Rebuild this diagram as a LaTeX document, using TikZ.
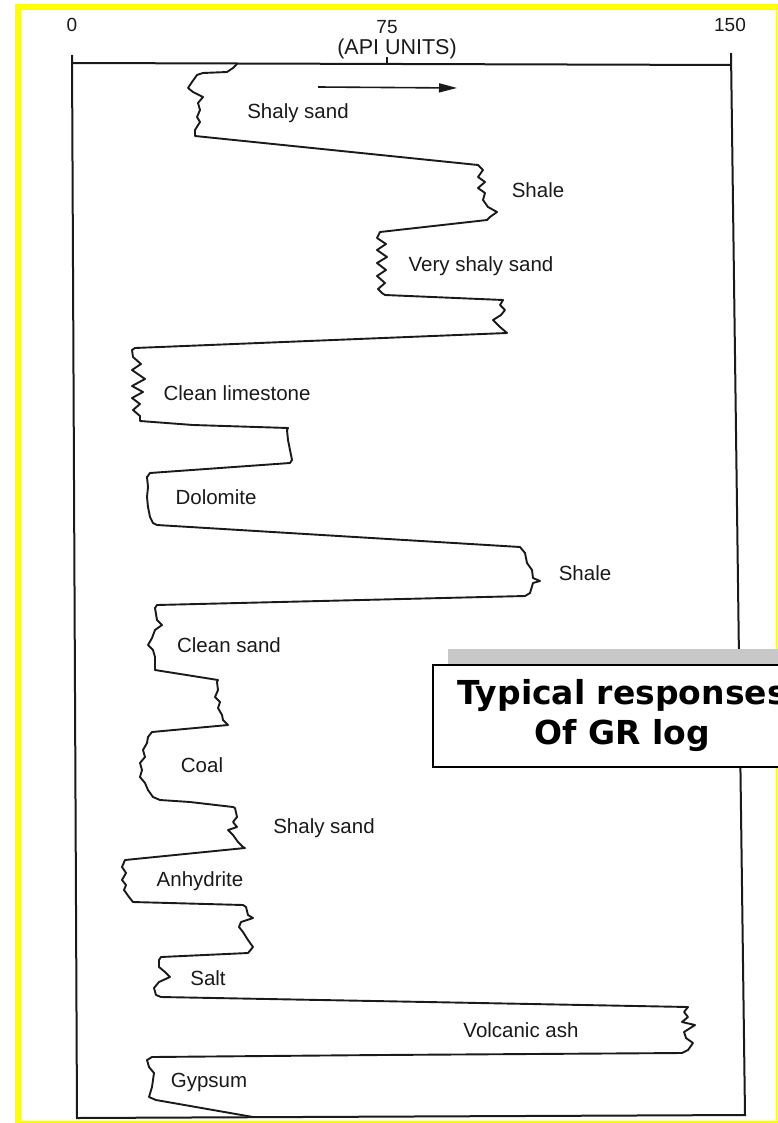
\documentclass[tikz,border=0pt]{standalone}
\usepackage{fontspec}
\newfontfamily\labelfont{Liberation Sans}
\newfontfamily\titlefont{DejaVu Sans}
\usetikzlibrary{arrows.meta}
\definecolor{ink}{HTML}{1A1A1A}
\definecolor{shadowgray}{HTML}{C8C8C8}
\definecolor{marker}{HTML}{FFFF00}
\tikzset{
  logline/.style={ink, line width=1.9pt, line join=round, line cap=round},
  framebox/.style={ink, line width=2pt, line join=miter},
  lith/.style={font=\labelfont\fontsize{20.5}{24}\selectfont, text=ink, inner sep=0pt},
  axislbl/.style={font=\labelfont\fontsize{19}{22}\selectfont, text=ink, inner sep=0pt},
  titlebox/.style={draw=black, line width=2pt, fill=white, align=center,
    font=\titlefont\bfseries\fontsize{33}{40}\selectfont,
    minimum width=378pt, minimum height=102pt, inner sep=0pt}
}
\begin{document}
\begin{tikzpicture}[x=1pt,y=-1pt]
  % page area
  \clip (0,0) rectangle (778,1123);
  \fill[white] (0,0) rectangle (778,1123);

  % yellow border
  \fill[marker] (15,4) rectangle (21,1123);
  \fill[marker] (15,4) rectangle (778,10);
  \draw[marker, line width=1.5pt] (776.5,4) -- (776.5,1123);
  \draw[marker, line width=1.5pt] (15,1122.2) -- (778,1122.2);

  % scale labels
  \node[axislbl] (s0) at (72,25) {0};
  \node[axislbl] (s75) at (387,27) {75};
  \node[axislbl] (s150) at (730,25) {150};
  \node[axislbl, font=\labelfont\fontsize{21.5}{24}\selectfont] (units) at (397,49) {(API UNITS)};

  % log track frame
  \draw[framebox] (72,55) -- (77,1118) -- (745,1115) -- (731,53);
  \draw[framebox] (72,63) -- (731,65);
  \draw[framebox] (387,57) -- (387,64);

  % direction of increasing API
  \coordinate (arrA) at (318,87);
  \coordinate (arrB) at (457,88);
  \draw[ink, line width=1.6pt, -{Triangle[length=18pt,width=9pt]}] (arrA) -- (arrB);

  % gamma ray curve
  \draw[logline]
    (237,64) -- (233,68) -- (227,72) -- (203,73) -- (197,75)
    -- (192,82) -- (188,88) -- (193,92) -- (203,97) -- (198,103) -- (200,110)
    -- (197,117) -- (200,122) -- (195,130) -- (195,136)
    -- (478,165)
    -- (483,170) -- (478,177) -- (485,182) -- (478,188) -- (485,193) -- (483,200)
    -- (488,207) -- (497,212) -- (490,217) -- (487,220)
    -- (380,232)
    -- (377,238) -- (386,244) -- (377,250) -- (387,257) -- (377,263) -- (386,270)
    -- (377,276) -- (385,283) -- (378,289) -- (382,293) -- (385,295)
    -- (503,300)
    -- (500,305) -- (505,310) -- (501,315) -- (493,320) -- (500,327) -- (507,333)
    -- (135,348)
    -- (132,350) -- (133,357) -- (141,364) -- (132,370) -- (145,379) -- (132,386)
    -- (143,392) -- (132,398) -- (140,404) -- (133,410) -- (140,416) -- (140,421)
    -- (193,425) -- (288,428)
    -- (287,430) -- (288,440) -- (290,450) -- (292,460) -- (290,463)
    -- (150,473)
    -- (147,477) -- (148,487) -- (147,497) -- (148,507) -- (150,517) -- (153,523) -- (157,525)
    -- (520,547)
    -- (525,553) -- (527,563) -- (532,570) -- (533,578) -- (540,581) -- (533,583)
    -- (530,593) -- (525,596)
    -- (157,605)
    -- (155,608) -- (157,620) -- (162,625) -- (155,630) -- (152,638) -- (148,645)
    -- (153,650) -- (155,657) -- (155,670)
    -- (218,680)
    -- (217,682) -- (218,690) -- (215,697) -- (220,702) -- (218,708) -- (222,715)
    -- (223,720) -- (228,725)
    -- (152,732)
    -- (148,737) -- (147,743) -- (143,750) -- (145,757) -- (140,763) -- (142,770)
    -- (140,777) -- (145,783) -- (148,790) -- (153,797) -- (160,800)
    -- (190,802) -- (233,807)
    -- (235,808) -- (237,817) -- (233,822) -- (237,827) -- (228,830) -- (233,835)
    -- (238,842) -- (243,847) -- (245,848)
    -- (125,860)
    -- (122,867) -- (126,873) -- (122,880) -- (126,885) -- (124,890) -- (129,897) -- (133,902)
    -- (243,905)
    -- (246,907) -- (248,915) -- (253,918) -- (241,922) -- (239,927) -- (243,932)
    -- (248,940) -- (253,947) -- (248,953)
    -- (161,957)
    -- (159,960) -- (159,967) -- (165,972) -- (170,977) -- (159,982) -- (154,988)
    -- (156,995) -- (161,997)
    -- (427,1002) -- (688,1007)
    -- (684,1012) -- (688,1017) -- (682,1022) -- (695,1025) -- (684,1032) -- (686,1038)
    -- (693,1043) -- (688,1050) -- (682,1053)
    -- (381,1055) -- (152,1057)
    -- (147,1060) -- (149,1067) -- (154,1073) -- (152,1087) -- (149,1097) -- (156,1100)
    -- (253,1117);

  % lithology labels
  \node[lith] (l1)  at (298,113)  {Shaly sand};
  \node[lith] (l2)  at (538,190)  {Shale};
  \node[lith] (l3)  at (481,266)  {Very shaly sand};
  \node[lith] (l4)  at (237,393)  {Clean limestone};
  \node[lith] (l5)  at (216,497)  {Dolomite};
  \node[lith] (l6)  at (585,573)  {Shale};
  \node[lith] (l7)  at (229,645)  {Clean sand};
  \node[lith] (l8)  at (202,765)  {Coal};
  \node[lith] (l9)  at (324,828)  {Shaly sand};
  \node[lith] (l10) at (200,881)  {Anhydrite};
  \node[lith] (l11) at (208,978)  {Salt};
  \node[lith] (l12) at (521,1030) {Volcanic ash};
  \node[lith] (l13) at (209,1082) {Gypsum};

  % caption box with drop shadow, running off the right edge of the page
  \fill[shadowgray] (448,649) rectangle (830,751);
  \node[titlebox] (title) at (622,716) {Typical responses\\Of GR log};
\end{tikzpicture}
\end{document}
